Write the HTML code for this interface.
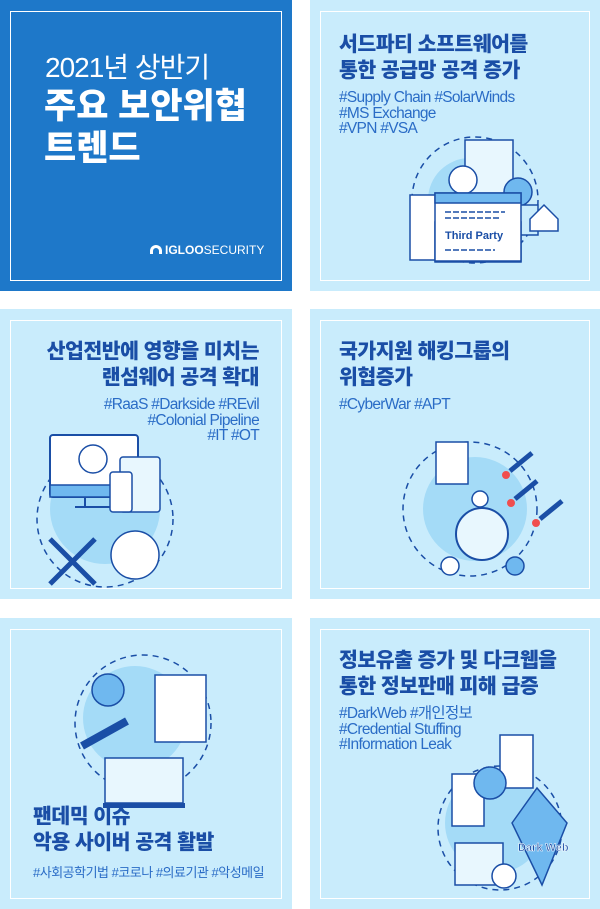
<!DOCTYPE html>
<html><head><meta charset="utf-8"><style>
*{margin:0;padding:0;box-sizing:border-box}
body{width:600px;height:909px;background:#fff;position:relative;overflow:hidden;font-family:"Liberation Sans","Noto Sans CJK KR",sans-serif}
.t{position:absolute;background:#c9ecfc}
.t .b{position:absolute;left:10px;top:11px;right:10px;bottom:10px;border:1px solid #fff}
.h{position:absolute;font-weight:900;color:#1a4ea6;font-size:20.5px;line-height:26px;white-space:nowrap;letter-spacing:-0.5px}
.g{position:absolute;color:#2a6cc6;font-size:15.5px;line-height:15.5px;white-space:nowrap;letter-spacing:-0.7px}
svg{position:absolute;left:0;top:0}
</style></head><body>
<div class="t" style="left:0;top:0;width:292px;height:291px;background:#1e78c9"><div class="b"></div>
<div style="position:absolute;left:45px;top:46px;color:#fff;font-size:28px;letter-spacing:-1px;white-space:nowrap">2021년 상반기</div>
<div style="position:absolute;left:44px;top:86px;color:#fff;font-size:35px;font-weight:900;white-space:nowrap;line-height:42px">주요 보안위협<br>트렌드</div>
<div style="position:absolute;left:150px;top:243px;color:#fff;font-size:12px;white-space:nowrap"><span style="display:inline-block;width:12px;height:9px;border:3px solid #fff;border-bottom:none;border-radius:8px 8px 0 0;margin-right:3px"></span><b>IGLOO</b>SECURITY</div>
</div>
<div class="t" style="left:310px;top:0;width:290px;height:291px"><div class="b"></div>
<div class="h" style="left:29px;top:32px">서드파티 소프트웨어를<br>통한 공급망 공격 증가</div>
<div class="g" style="left:29px;top:90px">#Supply Chain #SolarWinds<br>#MS Exchange<br>#VPN #VSA</div>
<svg width="290" height="291"><circle cx="165" cy="200" r="63" fill="none" stroke="#1a4ea6" stroke-width="1.5" stroke-dasharray="6 5"/>
<circle cx="160" cy="200" r="42" fill="#a4dbf7"/>
<rect x="155" y="140" width="48" height="60" fill="#e8f7fe" stroke="#1a4ea6" stroke-width="1.5"/>
<circle cx="153" cy="180" r="14" fill="#fff" stroke="#1a4ea6" stroke-width="1.5"/>
<rect x="100" y="195" width="40" height="65" fill="#fff" stroke="#1a4ea6" stroke-width="1.5"/>
<circle cx="208" cy="192" r="14" fill="#6fb8ef" stroke="#1a4ea6" stroke-width="1.5"/>
<rect x="198" y="205" width="30" height="30" fill="#c9ecfc" stroke="#1a4ea6" stroke-width="1.5"/>
<rect x="125" y="222" width="86" height="40" fill="#fff" stroke="#1a4ea6" stroke-width="1.5"/>
<rect x="125" y="193" width="86" height="68" fill="#fff" stroke="#1a4ea6" stroke-width="1.5"/>
<rect x="125" y="193" width="86" height="10" fill="#6fb8ef" stroke="#1a4ea6" stroke-width="1.5"/>
<path d="M135 212 h60 M135 218 h55 M135 250 h50" stroke="#1a4ea6" stroke-width="1.5" stroke-dasharray="6 2"/>
<text x="135" y="239" font-size="11" font-weight="bold" fill="#1a4ea6" font-family="Liberation Sans">Third Party</text>
<path d="M234 205 l14 14 v12 h-28 v-12z" fill="#fff" stroke="#1a4ea6" stroke-width="1.5"/></svg>
</div>
<div class="t" style="left:0;top:309px;width:292px;height:290px"><div class="b"></div>
<div class="h" style="right:33px;top:30px;text-align:right">산업전반에 영향을 미치는<br>랜섬웨어 공격 확대</div>
<div class="g" style="right:33px;top:88px;text-align:right">#RaaS #Darkside #REvil<br>#Colonial Pipeline<br>#IT #OT</div>
<svg width="292" height="290"><circle cx="105" cy="210" r="68" fill="none" stroke="#1a4ea6" stroke-width="1.5" stroke-dasharray="6 5"/>
<circle cx="105" cy="200" r="55" fill="#a4dbf7"/>
<rect x="50" y="126" width="88" height="62" rx="3" fill="#fff" stroke="#1a4ea6" stroke-width="2"/>
<rect x="50" y="176" width="88" height="12" fill="#6fb8ef" stroke="#1a4ea6" stroke-width="1.5"/>
<path d="M85 188 v10 M75 198 h40" stroke="#1a4ea6" stroke-width="2"/>
<circle cx="93" cy="150" r="14" fill="#fff" stroke="#1a4ea6" stroke-width="1.5"/>
<rect x="120" y="148" width="40" height="55" rx="3" fill="#e8f7fe" stroke="#1a4ea6" stroke-width="1.5"/>
<rect x="110" y="163" width="22" height="40" rx="3" fill="#fff" stroke="#1a4ea6" stroke-width="1.5"/>
<circle cx="135" cy="246" r="24" fill="#fff" stroke="#1a4ea6" stroke-width="1.5"/>
<path d="M50 230 l45 45 M95 230 l-45 45" stroke="#1a4ea6" stroke-width="5"/></svg>
</div>
<div class="t" style="left:310px;top:309px;width:290px;height:290px"><div class="b"></div>
<div class="h" style="left:29px;top:30px">국가지원 해킹그룹의<br>위협증가</div>
<div class="g" style="left:29px;top:88px">#CyberWar #APT</div>
<svg width="290" height="290"><circle cx="160" cy="200" r="67" fill="none" stroke="#1a4ea6" stroke-width="1.5" stroke-dasharray="6 5"/>
<circle cx="165" cy="200" r="52" fill="#a4dbf7"/>
<rect x="126" y="133" width="32" height="42" fill="#fff" stroke="#1a4ea6" stroke-width="1.5"/>
<circle cx="172" cy="225" r="26" fill="#e8f7fe" stroke="#1a4ea6" stroke-width="2"/>
<circle cx="170" cy="190" r="8" fill="#fff" stroke="#1a4ea6" stroke-width="1.5"/>
<circle cx="140" cy="257" r="9" fill="#fff" stroke="#1a4ea6" stroke-width="1.5"/>
<circle cx="205" cy="257" r="9" fill="#6fb8ef" stroke="#1a4ea6" stroke-width="1.5"/>
<path d="M200 162 l22 -18 M205 190 l22 -18 M230 210 l22 -18" stroke="#1a4ea6" stroke-width="5"/>
<circle cx="196" cy="166" r="4" fill="#f04e4e"/><circle cx="201" cy="194" r="4" fill="#f04e4e"/><circle cx="226" cy="214" r="4" fill="#f04e4e"/></svg>
</div>
<div class="t" style="left:0;top:618px;width:292px;height:291px"><div class="b"></div>
<div class="h" style="left:33px;top:186px">팬데믹 이슈<br>악용 사이버 공격 활발</div>
<div class="g" style="left:33px;top:247px;font-size:13px;letter-spacing:-0.5px">#사회공학기법 #코로나 #의료기관 #악성메일</div>
<svg width="292" height="291"><circle cx="143" cy="105" r="68" fill="none" stroke="#1a4ea6" stroke-width="1.5" stroke-dasharray="6 5"/>
<circle cx="135" cy="100" r="52" fill="#a4dbf7"/>
<circle cx="108" cy="72" r="16" fill="#6fb8ef" stroke="#1a4ea6" stroke-width="1.5"/>
<rect x="155" y="57" width="51" height="67" fill="#fff" stroke="#1a4ea6" stroke-width="1.5"/>
<path d="M82 128 l45 -25" stroke="#1a4ea6" stroke-width="8"/>
<rect x="105" y="140" width="78" height="45" fill="#e8f7fe" stroke="#1a4ea6" stroke-width="1.5"/>
<rect x="103" y="185" width="82" height="5" fill="#1a4ea6"/></svg>
</div>
<div class="t" style="left:310px;top:618px;width:290px;height:291px"><div class="b"></div>
<div class="h" style="left:29px;top:30px">정보유출 증가 및 다크웹을<br>통한 정보판매 피해 급증</div>
<div class="g" style="left:29px;top:88px">#DarkWeb #개인정보<br>#Credential Stuffing<br>#Information Leak</div>
<svg width="290" height="291"><circle cx="190" cy="210" r="62" fill="none" stroke="#1a4ea6" stroke-width="1.5" stroke-dasharray="6 5"/>
<circle cx="185" cy="205" r="50" fill="#a4dbf7"/>
<rect x="190" y="117" width="33" height="53" fill="#fff" stroke="#1a4ea6" stroke-width="1.5"/>
<rect x="142" y="156" width="32" height="52" fill="#fff" stroke="#1a4ea6" stroke-width="1.5"/>
<circle cx="180" cy="165" r="16" fill="#6fb8ef" stroke="#1a4ea6" stroke-width="1.5"/>
<path d="M202 205 l25 -35 l30 35 l-25 62z" fill="#6fb8ef" stroke="#1a4ea6" stroke-width="1.5"/>
<rect x="145" y="225" width="48" height="42" fill="#e8f7fe" stroke="#1a4ea6" stroke-width="1.5"/>
<circle cx="194" cy="258" r="12" fill="#fff" stroke="#1a4ea6" stroke-width="1.5"/>
<text x="208" y="233" font-size="11" font-weight="bold" fill="#1a4ea6" stroke="#fff" stroke-width="0.5" font-family="Liberation Sans">Dark Web</text></svg>
</div>
</body></html>
